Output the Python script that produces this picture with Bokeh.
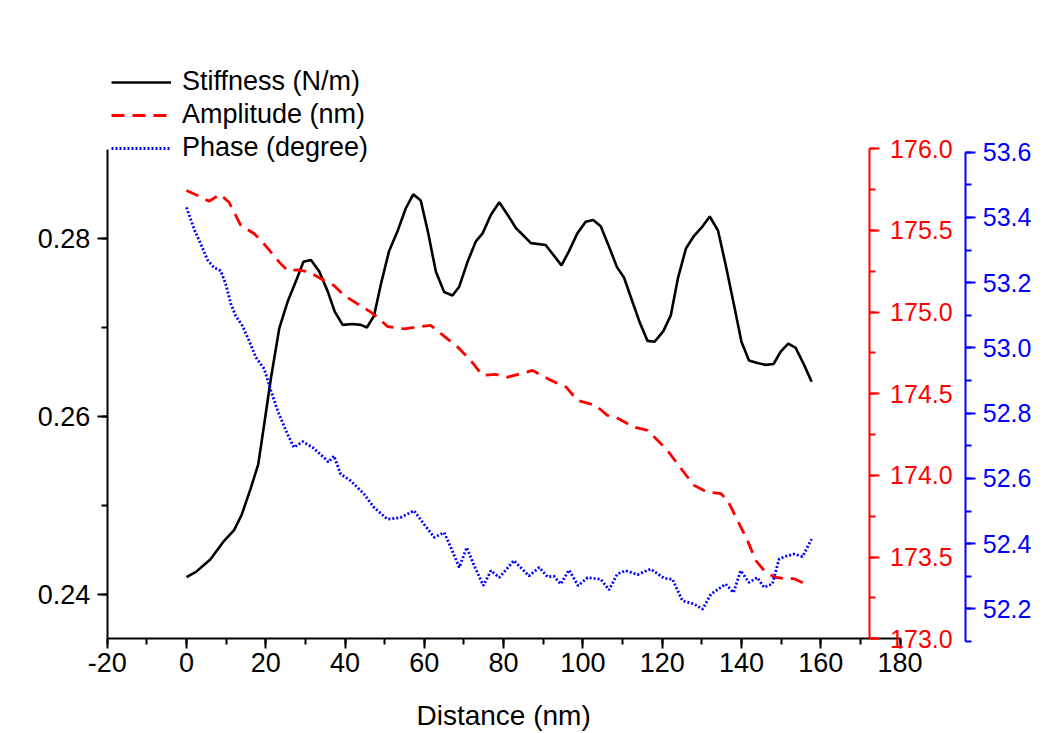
from bokeh.plotting import figure
from bokeh.models import (LinearAxis, Range1d, SingleIntervalTicker,
                          NumeralTickFormatter, Legend, LegendItem, Label)
from bokeh.embed import file_html
from bokeh.resources import INLINE

# ---------------- data ----------------
stiff_x = [0, 2.4, 6, 9.5, 12, 13.9, 16.2, 18.1, 19.6, 21.3, 23.4, 25.5, 27.6, 29.5,
           31.4, 33.5, 35.6, 37.4, 39.4, 41.9, 44, 45.5, 47.3, 49, 51.1, 53.2, 55.3,
           57.2, 59.1, 60.9, 62.9, 65, 67.1, 68.8, 70.9, 73, 74.7, 76.8, 78.9, 81,
           83.1, 86.9, 90.6, 94.6, 96.5, 98.6, 100.7, 102.6, 104.5, 106.6, 108.6,
           110.4, 112.5, 114.4, 116.3, 118.1, 120.3, 122.2, 124, 126, 128, 130.2, 132,
           134.1, 136, 138.1, 140, 141.9, 144, 146.1, 148.1, 149.9, 151.8, 153.7,
           155.8, 157.7]
stiff_y = [0.2419, 0.2425, 0.2439, 0.2460, 0.2472, 0.2489, 0.2519, 0.2546, 0.2591,
           0.2643, 0.2699, 0.2729, 0.2752, 0.2774, 0.2776, 0.2763, 0.2741, 0.2718,
           0.2703, 0.2704, 0.2703, 0.2700, 0.2713, 0.2748, 0.2786, 0.2808, 0.2834,
           0.2850, 0.2843, 0.2808, 0.2763, 0.2740, 0.2736, 0.2746, 0.2774, 0.2797,
           0.2806, 0.2827, 0.2841, 0.2827, 0.2812, 0.2795, 0.2793, 0.2770, 0.2786,
           0.2806, 0.2819, 0.2821, 0.2814, 0.2791, 0.2768, 0.2756, 0.2729, 0.2705,
           0.2685, 0.2684, 0.2696, 0.2714, 0.2756, 0.2789, 0.2803, 0.2814, 0.2825,
           0.2809, 0.2771, 0.2726, 0.2684, 0.2663, 0.2660, 0.2658, 0.2659, 0.2673,
           0.2682, 0.2677, 0.2658, 0.2639]

amp_x = [0, 2.8, 5.7, 8.5, 10.7, 13.7, 17.1, 19.2, 21.3, 23.4, 25.5, 28, 31, 34.7,
         37.2, 39.8, 43.1, 46.5, 48.6, 50.7, 54.9, 61.6, 64.2, 68.4, 71.7, 74.7, 78,
         81, 84.4, 87.3, 92, 95.8, 98.6, 103.2, 106.2, 108.3, 112.9, 116.3, 118,
         121.3, 125.1, 128, 131.4, 134.8, 136.5, 138.6, 141.5, 143.6, 145.7, 148.2,
         150.8, 153.3, 157.3]
amp_y = [175.745, 175.714, 175.679, 175.720, 175.673, 175.531, 175.480, 175.428,
         175.367, 175.306, 175.255, 175.259, 175.245, 175.194, 175.163, 175.102,
         175.051, 175.000, 174.960, 174.912, 174.898, 174.919, 174.868, 174.786,
         174.704, 174.613, 174.619, 174.602, 174.623, 174.643, 174.582, 174.541,
         174.460, 174.429, 174.368, 174.357, 174.296, 174.276, 174.235, 174.154,
         174.031, 173.940, 173.898, 173.889, 173.848, 173.745, 173.603, 173.480,
         173.419, 173.378, 173.368, 173.368, 173.322]

phase_x = [0, 1.9, 3.6, 5.3, 6.9, 8.6, 9.9, 11.2, 12.4, 14.1, 15.8, 17.5, 19.6, 21.3,
           23, 25.1, 27.1, 29.3, 31.8, 34.7, 35.8, 37.2, 38.9, 41.4, 44.8, 47.3, 50.7,
           54, 57.4, 59.9, 62.5, 65, 66.7, 68.8, 70.7, 72.6, 74.9, 76.8, 78.9, 82.6,
           86.4, 89, 91.1, 92.7, 94.4, 96.5, 98.8, 101.2, 104.5, 106.6, 108.7, 110.8,
           113.8, 117.1, 120.5, 122.6, 125.1, 128, 130.2, 132.3, 136, 138, 139.8,
           141.9, 144, 145.7, 147.8, 149.5, 151.6, 153.3, 155.4, 157.7]
phase_y = [53.431, 53.365, 53.319, 53.270, 53.247, 53.237, 53.196, 53.135, 53.099,
           53.068, 53.022, 52.971, 52.936, 52.869, 52.808, 52.746, 52.695, 52.713,
           52.695, 52.664, 52.650, 52.669, 52.613, 52.593, 52.552, 52.511, 52.475,
           52.480, 52.501, 52.460, 52.419, 52.434, 52.388, 52.327, 52.388, 52.332,
           52.271, 52.317, 52.296, 52.348, 52.301, 52.327, 52.298, 52.300, 52.276,
           52.319, 52.271, 52.296, 52.291, 52.258, 52.307, 52.317, 52.305, 52.322,
           52.294, 52.291, 52.225, 52.215, 52.199, 52.245, 52.276, 52.250, 52.317,
           52.281, 52.296, 52.266, 52.276, 52.353, 52.363, 52.368, 52.360, 52.414]

series_labels = ["Stiffness (N/m)", "Amplitude (nm)", "Phase (degree)"]
x_label = "Distance (nm)"

# axis extents (data units) and where the axes stand
x_bounds = (-20, 180)
stiff_bounds = (0.235, 0.290)
amp_bounds = (173.0, 176.0)
phase_bounds = (52.1, 53.6)
X_AXIS_AT = 0.235          # bottom axis sits at the lower stiffness bound
Y_AXIS_AT = -20            # left axis sits at the lower distance bound
AMP_AXIS_AT = 172.2
PHASE_AXIS_AT = 196.6
X_LABEL_POS = (80, 0.2263)  # centre of the x bounds, below the tick labels

FONT = "Liberation Sans"

# The frame covers the whole canvas, so nothing drawn outside the data box
# gets clipped; every axis is placed with fixed_location and its drawn
# extent limited with "bounds".
p = figure(frame_width=1043, frame_height=733,
           min_border_left=0, min_border_right=0,
           min_border_top=0, min_border_bottom=0,
           x_range=Range1d(-46.92, 216.2), y_range=Range1d(0.22431, 0.30681),
           output_backend="svg", toolbar_location=None,
           background_fill_color="white", border_fill_color="white")
p.outline_line_color = None
p.grid.visible = False
p.extra_y_ranges = {"amp": Range1d(172.4204, 176.9076),
                    "phase": Range1d(51.8178, 54.0653)}


def style(ax, color, size):
    ax.axis_line_color = color
    ax.axis_line_width = 2
    ax.major_tick_line_color = color
    ax.major_tick_line_width = 2
    ax.minor_tick_line_color = color
    ax.minor_tick_line_width = 2
    ax.major_tick_in = 0
    ax.major_tick_out = 10
    ax.minor_tick_in = 0
    ax.minor_tick_out = 6
    ax.major_label_text_font = FONT
    ax.major_label_text_font_size = size
    ax.major_label_text_color = color


xax = p.xaxis[0]
xax.ticker = SingleIntervalTicker(interval=20, num_minor_ticks=2)
xax.formatter = NumeralTickFormatter(format="0")
xax.bounds = x_bounds
xax.fixed_location = X_AXIS_AT
style(xax, "black", "27px")
xax.major_label_standoff = 4

yax = p.yaxis[0]
yax.ticker = SingleIntervalTicker(interval=0.02, num_minor_ticks=2)
yax.formatter = NumeralTickFormatter(format="0.00")
yax.bounds = stiff_bounds
yax.fixed_location = Y_AXIS_AT
style(yax, "black", "27px")
yax.major_label_standoff = 7

amp_axis = LinearAxis(y_range_name="amp", fixed_location=AMP_AXIS_AT,
                      bounds=amp_bounds,
                      ticker=SingleIntervalTicker(interval=0.5, num_minor_ticks=2),
                      formatter=NumeralTickFormatter(format="0.0"))
style(amp_axis, "red", "25px")
amp_axis.major_label_standoff = 11
p.add_layout(amp_axis, "right")

phase_axis = LinearAxis(y_range_name="phase", fixed_location=PHASE_AXIS_AT,
                        bounds=phase_bounds,
                        ticker=SingleIntervalTicker(interval=0.2, num_minor_ticks=2),
                        formatter=NumeralTickFormatter(format="0.0"))
style(phase_axis, "blue", "25px")
phase_axis.major_label_standoff = 7
p.add_layout(phase_axis, "right")

xlabel = Label(x=X_LABEL_POS[0], y=X_LABEL_POS[1], text=x_label,
               text_font=FONT, text_font_size="28px", text_color="black",
               text_align="center", text_baseline="middle")
p.add_layout(xlabel)

r1 = p.line(stiff_x, stiff_y, line_color="black", line_width=2.6)
r2 = p.line(amp_x, amp_y, y_range_name="amp", line_color="red", line_width=2.8,
            line_dash="13 8")
r3 = p.line(phase_x, phase_y, y_range_name="phase", line_color="blue", line_width=2.8,
            line_dash="2 2")

legend = Legend(items=[LegendItem(label=series_labels[0], renderers=[r1]),
                       LegendItem(label=series_labels[1], renderers=[r2]),
                       LegendItem(label=series_labels[2], renderers=[r3])],
                location=(111, 570), orientation="vertical",
                glyph_width=60, glyph_height=20, label_standoff=11,
                label_text_font=FONT, label_text_font_size="27px",
                label_text_color="black",
                label_height=20, spacing=2, padding=0, margin=0,
                border_line_color=None, background_fill_alpha=0)
p.add_layout(legend)

open("out.html", "w").write(file_html(p, INLINE))
